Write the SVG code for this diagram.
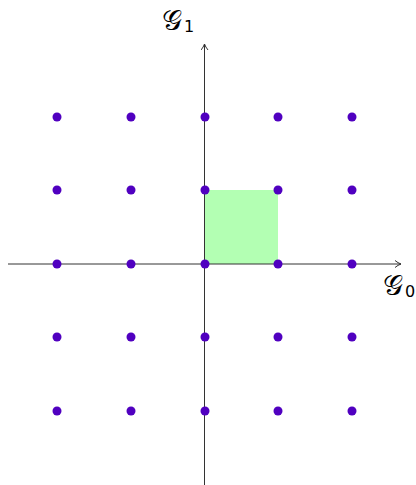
<svg xmlns="http://www.w3.org/2000/svg" width="416" height="485" viewBox="0 0 416 485">
<style>
.dot{fill:#5000c0}
.axis{stroke:#333;stroke-width:1;fill:none}
.lbl{font-family:"DejaVu Serif","Liberation Serif",serif;fill:#000}
.sub{font-family:"DejaVu Sans","Liberation Sans",sans-serif;fill:#000}
</style>
<defs>
<marker id="arr" markerWidth="10" markerHeight="10" refX="7" refY="4" orient="auto" markerUnits="userSpaceOnUse">
<path d="M1,0.5 Q4,3 7,4 Q4,5 1,7.5" fill="none" stroke="#333" stroke-width="1"/>
</marker>
</defs>
<rect id="cell" x="205" y="190" width="73" height="74" fill="#b3ffb3"/>
<g id="connectors">
<line class="axis" x1="8" y1="264" x2="401" y2="264" marker-end="url(#arr)"/>
<line class="axis" x1="204.5" y1="485" x2="204.5" y2="44" marker-end="url(#arr)"/>
</g>
<g id="dots">
<circle class="dot" cx="57" cy="117" r="4.5"/><circle class="dot" cx="131" cy="117" r="4.5"/><circle class="dot" cx="205" cy="117" r="4.5"/><circle class="dot" cx="278" cy="117" r="4.5"/><circle class="dot" cx="352" cy="117" r="4.5"/>
<circle class="dot" cx="57" cy="190" r="4.5"/><circle class="dot" cx="131" cy="190" r="4.5"/><circle class="dot" cx="205" cy="190" r="4.5"/><circle class="dot" cx="278" cy="190" r="4.5"/><circle class="dot" cx="352" cy="190" r="4.5"/>
<circle class="dot" cx="57" cy="264" r="4.5"/><circle class="dot" cx="131" cy="264" r="4.5"/><circle class="dot" cx="205" cy="264" r="4.5"/><circle class="dot" cx="278" cy="264" r="4.5"/><circle class="dot" cx="352" cy="264" r="4.5"/>
<circle class="dot" cx="57" cy="337" r="4.5"/><circle class="dot" cx="131" cy="337" r="4.5"/><circle class="dot" cx="205" cy="337" r="4.5"/><circle class="dot" cx="278" cy="337" r="4.5"/><circle class="dot" cx="352" cy="337" r="4.5"/>
<circle class="dot" cx="57" cy="411" r="4.5"/><circle class="dot" cx="131" cy="411" r="4.5"/><circle class="dot" cx="205" cy="411" r="4.5"/><circle class="dot" cx="278" cy="411" r="4.5"/><circle class="dot" cx="352" cy="411" r="4.5"/>
</g>
<g id="label-g1"><text class="lbl" x="162" y="30" font-size="28">𝒢</text><text class="sub" x="184" y="32" font-size="16">1</text></g>
<g id="label-g0"><text class="lbl" x="383" y="295" font-size="28">𝒢</text><text class="sub" x="405" y="297" font-size="16">0</text></g>
</svg>
